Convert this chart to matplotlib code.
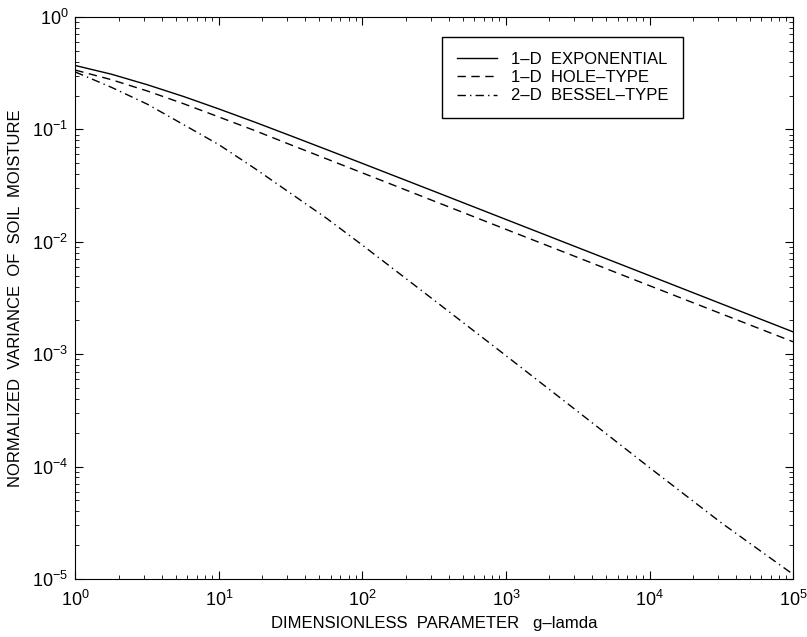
import numpy as np
import matplotlib
matplotlib.use("Agg")
from matplotlib import pyplot as plt

plt.rcParams['font.family'] = ['Liberation Sans', 'DejaVu Sans']
plt.rcParams['mathtext.fontset'] = 'custom'
plt.rcParams['mathtext.rm'] = 'Liberation Sans'

# values (log-log plot)
g_lamda = [1, 1.78, 3.16, 5.62, 10, 17.8, 31.6, 56.2, 100, 316, 1000, 3162, 10000, 31623, 100000]
exponential = [0.37, 0.310, 0.250, 0.197, 0.152, 0.116, 0.0878, 0.0662, 0.0498,
               0.0281, 0.0158, 0.00889, 0.0050, 0.00281, 0.00158]
hole_type = [0.337, 0.277, 0.220, 0.170, 0.129, 0.0976, 0.0730, 0.0547, 0.0410,
             0.0230, 0.0129, 0.00725, 0.00407, 0.00229, 0.00129]
bessel_type = [0.324, 0.237, 0.168, 0.111, 0.0731, 0.0449, 0.0270, 0.0162, 0.00933,
               0.00302, 0.00097, 0.000309, 0.000098, 0.0000316, 0.000011]

labels = ["1\u2013D  EXPONENTIAL", "1\u2013D  HOLE\u2013TYPE", "2\u2013D  BESSEL\u2013TYPE"]

fig = plt.figure(figsize=(8.07, 6.37), dpi=100)
ax = fig.add_axes([0.0934, 0.0911, 0.8893, 0.8822])

ax.loglog(g_lamda, exponential, color='black', lw=1.0, label=labels[0])
ax.loglog(g_lamda, hole_type, color='black', lw=1.0, dashes=(6, 4), label=labels[1])
ax.loglog(g_lamda, bessel_type, color='black', lw=1.0, dashes=(6, 3, 1, 3), label=labels[2])

ax.set_xlim(1, 1e5)
ax.set_ylim(1e-5, 1)
ax.tick_params(which='both', direction='in', top=True, right=True, labelsize=13)
ax.tick_params(axis='x', which='major', pad=8)
ax.tick_params(axis='y', which='major', pad=5)
ax.tick_params(which='major', length=6)
ax.tick_params(which='minor', length=3)
ax.xaxis.set_major_locator(matplotlib.ticker.LogLocator(base=10, numticks=10))
ax.yaxis.set_major_locator(matplotlib.ticker.LogLocator(base=10, numticks=10))

ax.set_xlabel("DIMENSIONLESS  PARAMETER   g\u2013lamda", fontsize=12, labelpad=4)
ax.set_ylabel("NORMALIZED  VARIANCE  OF  SOIL  MOISTURE", fontsize=12, labelpad=7)

leg = ax.legend(loc='upper right', bbox_to_anchor=(0.847, 0.965), fontsize=12,
                frameon=True, fancybox=False, edgecolor='black', framealpha=1,
                handlelength=2.4, borderpad=0.9, labelspacing=0.2, handletextpad=0.8,
                borderaxespad=0)
leg.get_frame().set_linewidth(1.0)

fig.savefig("out.png", dpi=100)
